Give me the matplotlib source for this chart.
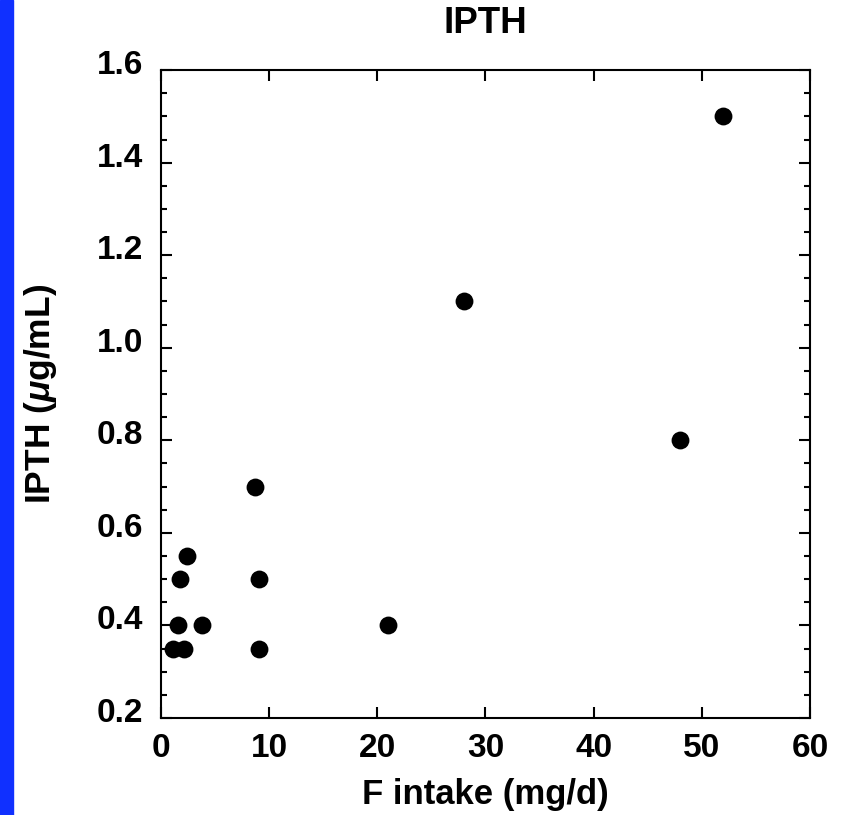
import matplotlib
matplotlib.use("Agg")
import matplotlib.pyplot as plt
import matplotlib.transforms as mtransforms
from matplotlib.ticker import MultipleLocator
from matplotlib.patches import Rectangle

plt.rcParams['font.family'] = ['Liberation Sans', 'DejaVu Sans']
plt.rcParams['font.weight'] = 'bold'
plt.rcParams['mathtext.fontset'] = 'custom'
plt.rcParams['mathtext.it'] = 'Liberation Sans:bold:italic'
plt.rcParams['mathtext.rm'] = 'Liberation Sans:bold'

# F intake (mg/d) vs IPTH (ug/mL)
f_intake = [52, 28, 48, 8.7, 9.1, 9.1, 21, 2.4, 1.8, 1.6, 3.8, 1.1, 2.1]
ipth = [1.5, 1.1, 0.8, 0.7, 0.5, 0.35, 0.4, 0.55, 0.5, 0.4, 0.4, 0.35, 0.35]

fig = plt.figure(figsize=(8.41, 8.15), dpi=100)
# blue strip at the left edge
fig.patches.append(Rectangle((0, 0), 13 / 841, 1, transform=fig.transFigure,
                             color='#1030ff', zorder=0))

ax = fig.add_axes([0.1914, 0.119, 0.7717, 0.795])
ax.scatter(f_intake, ipth, s=165, color='black', zorder=3, linewidths=0)

ax.set_xlim(0, 60)
ax.set_ylim(0.2, 1.6)
ax.xaxis.set_major_locator(MultipleLocator(10))
ax.yaxis.set_major_locator(MultipleLocator(0.2))
ax.yaxis.set_minor_locator(MultipleLocator(0.05))
ax.set_yticklabels([f"{v:.1f}" for v in ax.get_yticks()])

ax.tick_params(axis='both', which='both', direction='in', top=True, right=True,
               width=1.5, labelsize=24)
ax.tick_params(axis='both', which='major', length=8)
ax.tick_params(axis='y', which='minor', length=4)
ax.tick_params(axis='y', which='major', pad=13)
ax.tick_params(axis='x', which='major', pad=11)
for sp in ax.spines.values():
    sp.set_linewidth(1.5)

# y tick labels sit a bit above their ticks
shift = mtransforms.ScaledTranslation(0, 8 / 100, fig.dpi_scale_trans)
for lab in ax.get_yticklabels():
    lab.set_transform(lab.get_transform() + shift)

ax.set_xlabel('F intake (mg/d)', fontsize=25, fontweight='bold', labelpad=10)
ax.set_ylabel(r'IPTH ($\mu$g/mL)', fontsize=25.5, fontweight='bold', labelpad=27)
ax.set_title('IPTH', fontsize=26.5, fontweight='bold', pad=27)

fig.savefig('out.png', dpi=100)
